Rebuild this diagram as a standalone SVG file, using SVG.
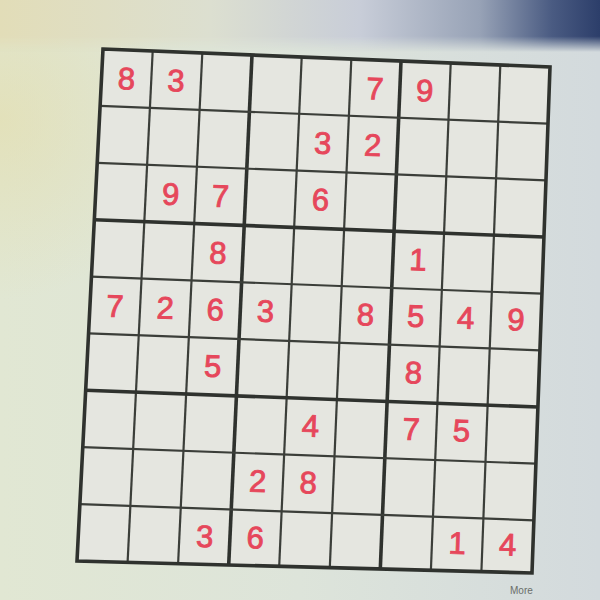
<svg xmlns="http://www.w3.org/2000/svg" width="600" height="600" viewBox="0 0 600 600">
<defs>
<linearGradient id="paper" x1="0" y1="0" x2="1" y2="0">
<stop offset="0" stop-color="#e1e7d3"/>
<stop offset="0.5" stop-color="#dde4da"/>
<stop offset="1" stop-color="#d3dadd"/>
</linearGradient>
<linearGradient id="band" x1="0" y1="0" x2="1" y2="0">
<stop offset="0" stop-color="#e2ddb8"/>
<stop offset="0.35" stop-color="#dcdfd0"/>
<stop offset="0.6" stop-color="#c8cdd8"/>
<stop offset="0.8" stop-color="#97a2b6"/>
<stop offset="0.92" stop-color="#4a5b82"/>
<stop offset="1" stop-color="#2c3e6a"/>
</linearGradient>
<linearGradient id="fade" x1="0" y1="0" x2="0" y2="1">
<stop offset="0" stop-color="#fff" stop-opacity="1"/>
<stop offset="0.7" stop-color="#fff" stop-opacity="1"/>
<stop offset="1" stop-color="#fff" stop-opacity="0"/>
</linearGradient>
<mask id="bandMask"><rect x="0" y="0" width="600" height="52" fill="url(#fade)"/></mask>
<radialGradient id="leftGlow" cx="0" cy="0.2" r="0.3">
<stop offset="0" stop-color="#e4dca6" stop-opacity="0.55"/>
<stop offset="1" stop-color="#e4dca6" stop-opacity="0"/>
</radialGradient>
<style>
.thin{stroke:#3b3e39;stroke-width:2.2;fill:none}
.thick{stroke:#2f322e;stroke-width:3.6;fill:none}
.d{font-family:"Liberation Sans",Arial,sans-serif;font-size:31px;fill:#e6475b;stroke:#e6475b;stroke-width:0.9;text-anchor:middle}
</style>
</defs>
<rect x="0" y="0" width="600" height="600" fill="url(#paper)"/>
<rect x="0" y="0" width="600" height="600" fill="url(#leftGlow)"/>
<rect x="0" y="0" width="600" height="52" fill="url(#band)" mask="url(#bandMask)"/>

<g id="board">
<polygon points="103,49 550,67 532,573 77,561" fill="#e5e6e0"/>
</g>

<g id="gridlines">
<line class="thin" x1="152.7" y1="51" x2="127.6" y2="562.3"/>
<line class="thin" x1="202.3" y1="53" x2="178.1" y2="563.7"/>
<line class="thick" x1="252" y1="55" x2="228.7" y2="565"/>
<line class="thin" x1="301.7" y1="57" x2="279.2" y2="566.3"/>
<line class="thin" x1="351.3" y1="59" x2="329.8" y2="567.7"/>
<line class="thick" x1="401" y1="61" x2="380.3" y2="569"/>
<line class="thin" x1="450.7" y1="63" x2="430.9" y2="570.3"/>
<line class="thin" x1="500.3" y1="65" x2="481.4" y2="571.7"/>
<line class="thin" x1="100.1" y1="105.9" x2="548" y2="123.7"/>
<line class="thin" x1="97.2" y1="162.8" x2="546" y2="180.3"/>
<line class="thick" x1="94.3" y1="219.7" x2="544" y2="237"/>
<line class="thin" x1="91.4" y1="276.6" x2="542" y2="293.7"/>
<line class="thin" x1="88.6" y1="333.4" x2="540" y2="350.3"/>
<line class="thick" x1="85.7" y1="390.3" x2="538" y2="407"/>
<line class="thin" x1="82.8" y1="447.2" x2="536" y2="463.7"/>
<line class="thin" x1="79.9" y1="504.1" x2="534" y2="520.3"/>
<polygon class="thick" points="103,49 550,67 532,573 77,561"/>
</g>

<g id="digits">
<text class="d" x="126.4" y="89.4" transform="rotate(2 126.4 78.4)">8</text>
<text class="d" x="176.1" y="91.3" transform="rotate(2 176.1 80.3)">3</text>
<text class="d" x="375" y="99.2" transform="rotate(2 375 88.2)">7</text>
<text class="d" x="424.7" y="101.2" transform="rotate(2 424.7 90.2)">9</text>

<text class="d" x="322.8" y="153.8" transform="rotate(2 322.8 142.8)">3</text>
<text class="d" x="372.7" y="155.7" transform="rotate(2 372.7 144.7)">2</text>

<text class="d" x="170.7" y="204.9" transform="rotate(2 170.7 193.9)">9</text>
<text class="d" x="220.6" y="206.7" transform="rotate(2 220.6 195.7)">7</text>
<text class="d" x="320.4" y="210.4" transform="rotate(2 320.4 199.4)">6</text>

<text class="d" x="218" y="263.5" transform="rotate(2 218 252.5)">8</text>
<text class="d" x="418" y="270.4" transform="rotate(2 418 259.4)">1</text>

<text class="d" x="115" y="316.8" transform="rotate(2 115 305.8)">7</text>
<text class="d" x="165.2" y="318.5" transform="rotate(2 165.2 307.5)">2</text>
<text class="d" x="215.3" y="320.2" transform="rotate(2 215.3 309.2)">6</text>
<text class="d" x="265.4" y="321.8" transform="rotate(2 265.4 310.8)">3</text>
<text class="d" x="365.6" y="325.2" transform="rotate(2 365.6 314.2)">8</text>
<text class="d" x="415.7" y="326.8" transform="rotate(2 415.7 315.8)">5</text>
<text class="d" x="465.8" y="328.5" transform="rotate(2 465.8 317.5)">4</text>
<text class="d" x="516" y="330.2" transform="rotate(2 516 319.2)">9</text>

<text class="d" x="212.7" y="376.9" transform="rotate(2 212.7 365.9)">5</text>
<text class="d" x="413.4" y="383.3" transform="rotate(2 413.4 372.3)">8</text>

<text class="d" x="310.6" y="436.6" transform="rotate(2 310.6 425.6)">4</text>
<text class="d" x="411.2" y="439.7" transform="rotate(2 411.2 428.7)">7</text>
<text class="d" x="461.5" y="441.2" transform="rotate(2 461.5 430.2)">5</text>

<text class="d" x="257.7" y="491.8" transform="rotate(2 257.7 480.8)">2</text>
<text class="d" x="308.2" y="493.2" transform="rotate(2 308.2 482.2)">8</text>

<text class="d" x="204.7" y="547" transform="rotate(2 204.7 536)">3</text>
<text class="d" x="255.2" y="548.4" transform="rotate(2 255.2 537.4)">6</text>
<text class="d" x="457.2" y="553.9" transform="rotate(2 457.2 542.9)">1</text>
<text class="d" x="507.8" y="555.2" transform="rotate(2 507.8 544.2)">4</text>
</g>

<text x="510" y="594" font-family="'Liberation Sans',Arial,sans-serif" font-size="10" fill="#6a6e6a">More</text>
</svg>
